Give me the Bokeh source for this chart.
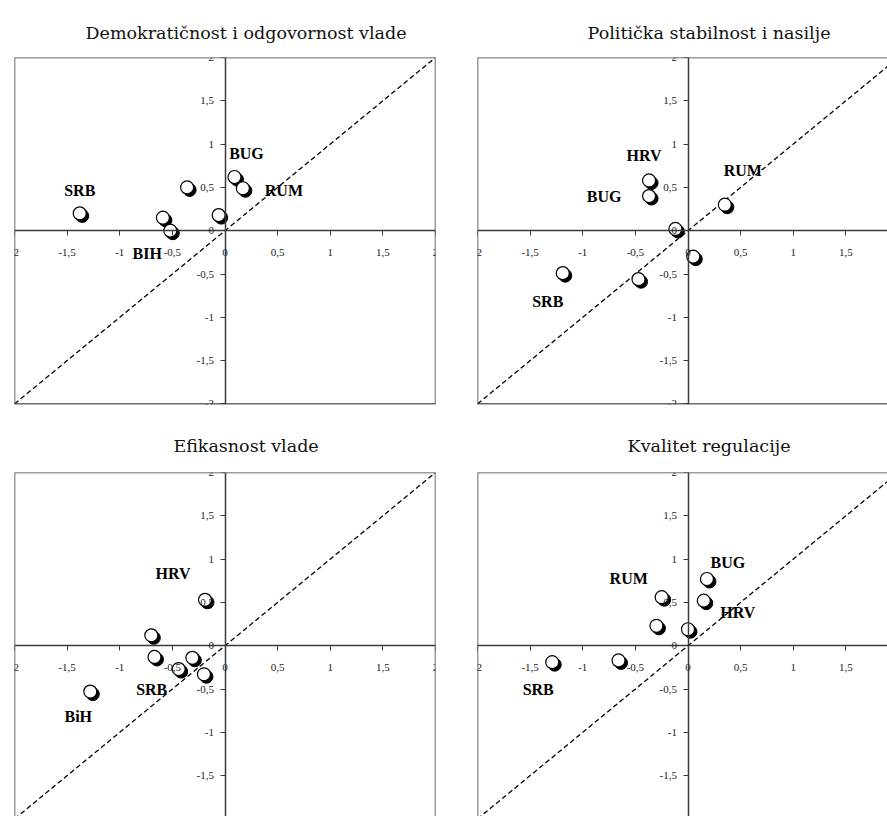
from bokeh.plotting import figure
from bokeh.layouts import column, row
from bokeh.models import (ColumnDataSource, CustomJSTickFormatter, FixedTicker,
                          Range1d, Span)
from bokeh.embed import file_html
from bokeh.resources import INLINE
from bokeh.core.properties import value

# --- data: governance indicators (x: earlier year, y: later year) -----------
titles = [
    "Demokratičnost i odgovornost vlade",
    "Politička stabilnost i nasilje",
    "Efikasnost vlade",
    "Kvalitet regulacije",
]

voice_x = [-1.38, -0.52, -0.59, -0.36, -0.06, 0.09, 0.17]
voice_y = [0.20, 0.00, 0.15, 0.50, 0.18, 0.62, 0.49]
voice_lab = ["SRB", "BIH", "", "", "", "BUG", "RUM"]

stab_x = [-0.37, -0.37, 0.35, -0.12, 0.05, -0.47, -1.19]
stab_y = [0.58, 0.40, 0.30, 0.02, -0.30, -0.56, -0.49]
stab_lab = ["HRV", "BUG", "RUM", "", "", "", "SRB"]

eff_x = [-0.19, -0.70, -0.67, -0.44, -0.31, -0.20, -1.28]
eff_y = [0.53, 0.12, -0.13, -0.27, -0.14, -0.33, -0.53]
eff_lab = ["HRV", "", "", "SRB", "", "", "BiH"]

reg_x = [0.18, 0.15, -0.25, -0.30, 0.00, -0.66, -1.29]
reg_y = [0.77, 0.52, 0.56, 0.23, 0.19, -0.17, -0.19]
reg_lab = ["BUG", "HRV", "RUM", "", "", "", "SRB"]

ticks = [-2, -1.5, -1, -0.5, 0, 0.5, 1, 1.5, 2]

# label placement (pixel offsets from the marker)
voice_off = [(0, -23), (-23, 23), None, None, None, (12, -24), (41, 2)]
stab_off = [(-5, -25), (-45, 0), (18, -34), None, None, None, (-15, 28)]
eff_off = [(-32, -26), None, None, (-27, 20), None, None, (-12, 25)]
reg_off = [(21, -17), (34, 12), (-33, -19), None, None, None, (-14, 27)]

PX_PER_X = 105.25   # pixels per unit on x
PX_PER_Y = 86.6     # pixels per unit on y
AX_COLOR = "#3a3a3a"
SERIF = "Liberation Serif"
TITLE_X = 0.2       # horizontal centre of the panel titles (data units)
TOP_PAD = 8         # room above each frame for the top tick label


def heading(title, x_range, frame_w, frame_h, border_left, border_right,
            baseline_px):
    """A strip above a panel that carries its title, sharing the x range."""
    h = figure(frame_width=frame_w, frame_height=frame_h,
               x_range=x_range, y_range=Range1d(0, frame_h),
               x_axis_type=None, y_axis_type=None,
               output_backend="svg", toolbar_location=None,
               min_border_left=border_left, min_border_right=border_right,
               min_border_top=0, min_border_bottom=0)
    h.outline_line_color = None
    h.grid.visible = False
    h.border_fill_color = "white"
    h.text(x=[TITLE_X], y=[baseline_px], text=[title],
           text_font=value("DejaVu Serif"), text_font_size="17.5px",
           text_align="center", text_baseline="alphabetic",
           text_color="#111111")
    return h


def panel(xs, ys, labels, offsets, frame_w, frame_h, border_left,
          border_right, border_bottom):
    x_end = -2 + frame_w / PX_PER_X
    y_start = 2 - frame_h / PX_PER_Y
    p = figure(frame_width=frame_w, frame_height=frame_h,
               x_range=Range1d(-2, x_end), y_range=Range1d(y_start, 2),
               output_backend="svg", toolbar_location=None,
               min_border_left=border_left, min_border_right=border_right,
               min_border_top=TOP_PAD, min_border_bottom=border_bottom)
    p.outline_line_color = None
    p.background_fill_color = "white"
    p.border_fill_color = "white"
    p.grid.visible = False

    # axes crossing at the origin
    fmt = CustomJSTickFormatter(code="return tick.toString().replace('.', ',');")
    for ax in (p.xaxis[0], p.yaxis[0]):
        ax.fixed_location = 0
        ax.ticker = FixedTicker(ticks=ticks)
        ax.formatter = fmt
        ax.axis_line_color = AX_COLOR
        ax.axis_line_width = 1.5
        ax.major_tick_line_color = AX_COLOR
        ax.major_tick_line_width = 1
        ax.major_tick_in = 0
        ax.major_tick_out = 5
        ax.minor_tick_line_color = None
        ax.major_label_text_font = SERIF
        ax.major_label_text_font_size = "11px"
        ax.major_label_text_color = "#222222"
    p.xaxis[0].major_label_standoff = 13
    p.yaxis[0].major_label_standoff = 6

    # frame edges that fall inside the visible area
    for loc in (-2, 2):
        if -2 <= loc <= x_end:
            p.add_layout(Span(location=loc, dimension="height",
                              line_color=AX_COLOR, line_width=1.5))
        if y_start <= loc <= 2:
            p.add_layout(Span(location=loc, dimension="width",
                              line_color=AX_COLOR, line_width=1.5))

    # 45-degree reference line
    p.line([-2, 2], [-2, 2], line_color="black", line_width=1.3,
           line_dash="5 3")

    # shaded ball markers: dark shadow below-right, white disc on top
    sx = 2.5 / PX_PER_X
    sy = 2.5 / PX_PER_Y
    p.scatter([x + sx for x in xs], [y - sy for y in ys], size=13,
              marker="circle", fill_color="black", line_color="black")
    p.scatter(xs, ys, size=13, marker="circle", fill_color="white",
              line_color="black", line_width=1.2)

    lx, ly, lt, ox, oy = [], [], [], [], []
    for x, y, t, o in zip(xs, ys, labels, offsets):
        if t and o:
            lx.append(x); ly.append(y); lt.append(t)
            ox.append(o[0]); oy.append(o[1])
    src = ColumnDataSource(dict(x=lx, y=ly, t=lt, ox=ox, oy=oy))
    p.text(x="x", y="y", text="t", x_offset="ox", y_offset="oy", source=src,
           text_font=value(SERIF), text_font_style="bold",
           text_font_size="16px", text_align="center",
           text_baseline="middle", text_color="black")
    return p


p1 = panel(voice_x, voice_y, voice_lab, voice_off, 421, 347, 14, 5, 10)
p2 = panel(stab_x, stab_y, stab_lab, stab_off, 410, 347, 37, 0, 10)
p3 = panel(eff_x, eff_y, eff_lab, eff_off, 421, 344, 14, 5, 0)
p4 = panel(reg_x, reg_y, reg_lab, reg_off, 410, 344, 37, 0, 0)

h1 = heading(titles[0], p1.x_range, 421, 57 - TOP_PAD, 14, 5, 17)
h2 = heading(titles[1], p2.x_range, 410, 57 - TOP_PAD, 37, 0, 17)
h3 = heading(titles[2], p3.x_range, 421, 58 - TOP_PAD, 14, 5, 19)
h4 = heading(titles[3], p4.x_range, 410, 58 - TOP_PAD, 37, 0, 19)

layout = column(row(h1, h2), row(p1, p2), row(h3, h4), row(p3, p4))
open("out.html", "w").write(file_html(layout, INLINE))
